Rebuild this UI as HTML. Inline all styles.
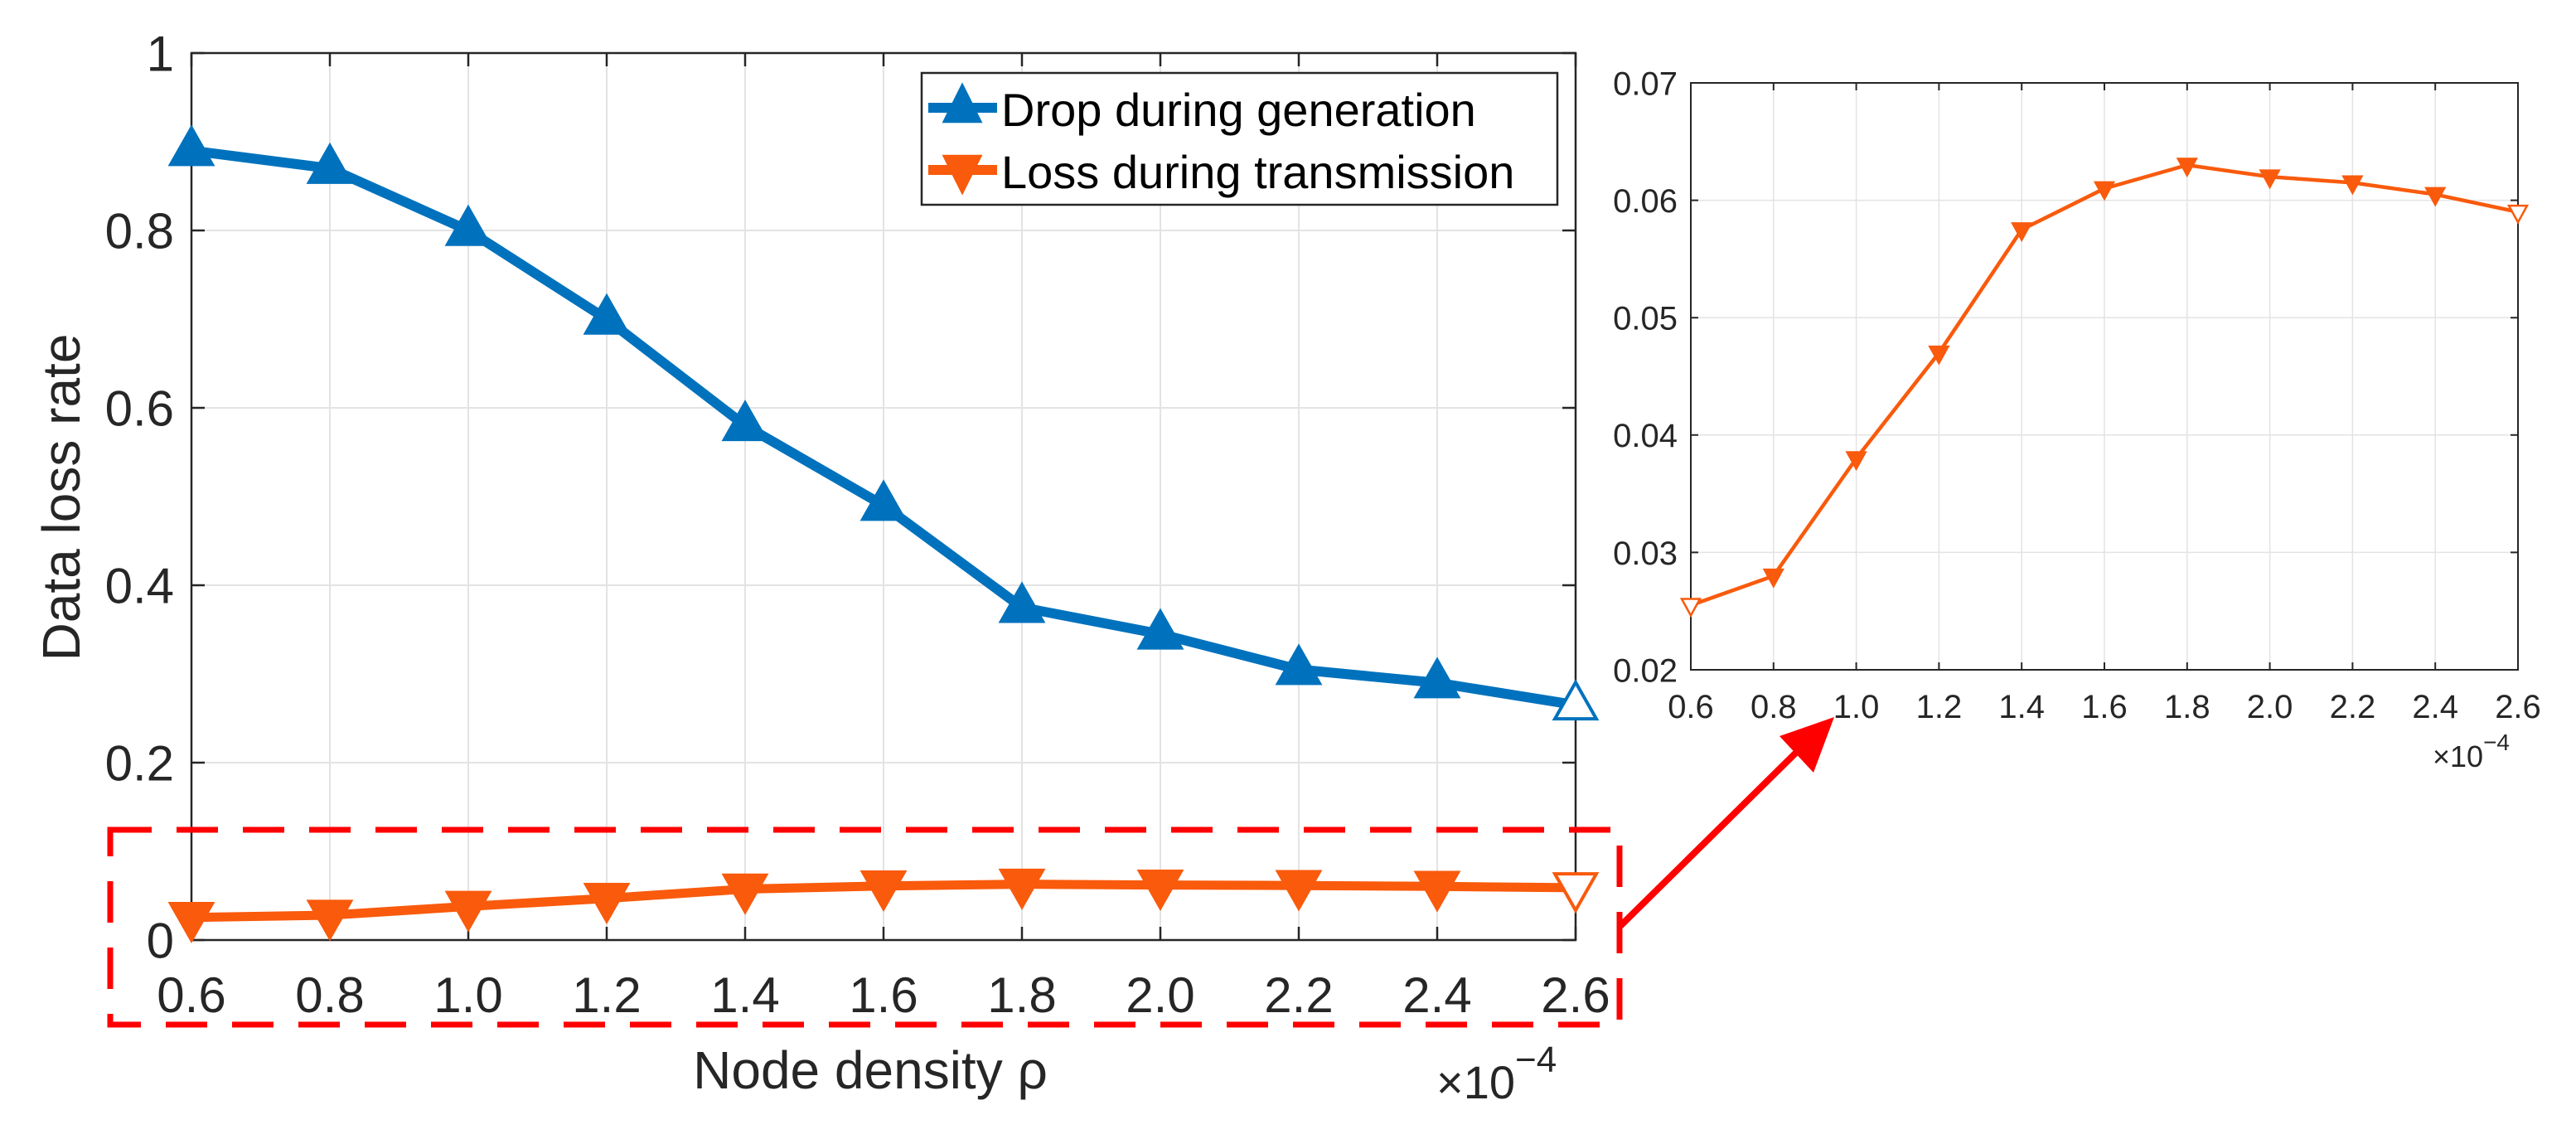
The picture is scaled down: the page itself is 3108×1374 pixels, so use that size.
<!DOCTYPE html>
<html><head><meta charset="utf-8"><style>
html,body{margin:0;padding:0;background:#fff;}
svg{display:block;font-family:"Liberation Sans",sans-serif;}
</style></head><body>
<svg id="chart" width="3108" height="1374" viewBox="0 0 3108 1374" xmlns="http://www.w3.org/2000/svg">
<rect width="3108" height="1374" fill="#fff"/>
<g id="main"></g>
<g id="inset"></g>
<g id="annot"></g>
</svg>
<script>
const xTicks = [0.6,0.8,1.0,1.2,1.4,1.6,1.8,2.0,2.2,2.4,2.6];
const xTickLabels = ["0.6","0.8","1.0","1.2","1.4","1.6","1.8","2.0","2.2","2.4","2.6"];
const dropGen = [0.89,0.87,0.80,0.70,0.58,0.49,0.375,0.345,0.305,0.29,0.265];
const lossTx = [0.0255,0.028,0.038,0.047,0.0575,0.061,0.063,0.062,0.0615,0.0605,0.059];
const mainYTicks = [0,0.2,0.4,0.6,0.8,1];
const mainYLabels = ["0","0.2","0.4","0.6","0.8","1"];
const insetYTicks = [0.02,0.03,0.04,0.05,0.06,0.07];
const insetYLabels = ["0.02","0.03","0.04","0.05","0.06","0.07"];

const NS="http://www.w3.org/2000/svg";
function mk(parent,tag,attrs,text){const e=document.createElementNS(NS,tag);for(const k in attrs)e.setAttribute(k,attrs[k]);if(text!==undefined)e.textContent=text;parent.appendChild(e);return e;}
const BLUE="#0072BD", ORANGE="#F95A0C", AX="#262626", GRID="#e3e3e3";

function axes(g,o){
  const sx=v=>o.x0+(v-o.xmin)/(o.xmax-o.xmin)*(o.x1-o.x0);
  const sy=v=>o.y1-(v-o.ymin)/(o.ymax-o.ymin)*(o.y1-o.y0);
  xTicks.forEach((t,i)=>{
    const l=mk(g,'line',{x1:sx(t),x2:sx(t),y1:o.y0,y2:o.y1,stroke:GRID,'stroke-width':o.gw});
    
    
    const tk=mk(g,'path',{d:`M${sx(t)},${o.y1}v${-o.tl}M${sx(t)},${o.y0}v${o.tl}`,stroke:AX,'stroke-width':o.aw});
    
    
    const tx=mk(g,'text',{x:sx(t),y:o.xly,'font-size':o.fs,'text-anchor':'middle',fill:'#262626'},xTickLabels[i]);
    
    
  });
  o.yt.forEach((t,i)=>{
    const l=mk(g,'line',{x1:o.x0,x2:o.x1,y1:sy(t),y2:sy(t),stroke:GRID,'stroke-width':o.gw});
    
    
    const tk=mk(g,'path',{d:`M${o.x0},${sy(t)}h${o.tl}M${o.x1},${sy(t)}h${-o.tl}`,stroke:AX,'stroke-width':o.aw});
    
    
    const tx=mk(g,'text',{x:o.ylx,y:sy(t)+o.fs*0.36,'font-size':o.fs,'text-anchor':'end',fill:'#262626'},o.yl[i]);
    
    
  });
  const b=mk(g,'rect',{x:o.x0,y:o.y0,width:o.x1-o.x0,height:o.y1-o.y0,fill:'none',stroke:AX,'stroke-width':o.aw});
  
  
  return {sx,sy};
}
function tri(g,x,y,w,h,up,color,hollow,sw){
  const d=up?`M${x},${y-h*0.62}L${x+w/2},${y+h*0.38}L${x-w/2},${y+h*0.38}Z`:`M${x},${y+h*0.62}L${x+w/2},${y-h*0.38}L${x-w/2},${y-h*0.38}Z`;
  const p=mk(g,'path',{d,fill:hollow?'#fff':color,stroke:color,'stroke-width':sw,'stroke-linejoin':'miter'});
  
  
}
function series(g,sx,sy,vals,color,lw,up,w,h,sw,hollowIdx,name){
  const pts=vals.map((v,i)=>sx(xTicks[i])+','+sy(v)).join(' ');
  const pl=mk(g,'polyline',{points:pts,fill:'none',stroke:color,'stroke-width':lw,'stroke-linejoin':'round'});
  
  
  vals.forEach((v,i)=>tri(g,sx(xTicks[i]),sy(v),w,h,up,color,hollowIdx.includes(i),sw));
}

// Main plot
const gm=document.getElementById('main');
const m=axes(gm,{x0:231,x1:1901,y0:64,y1:1134,xmin:0.6,xmax:2.6,ymin:0,ymax:1,yt:mainYTicks,yl:mainYLabels,fs:60,xly:1221,ylx:210,tl:16,aw:2.5,gw:2});
series(gm,m.sx,m.sy,dropGen,BLUE,12,true,50,44,4,[10],'drop-line');
series(gm,m.sx,m.sy,lossTx,ORANGE,11,false,50,44,4,[10],'loss-line');
let t=mk(gm,'text',{x:1050,y:1313,'font-size':64,'text-anchor':'middle',fill:'#262626'},'Node density ρ');

t=mk(gm,'text',{x:0,y:0,'font-size':64,'text-anchor':'middle',fill:'#262626',transform:'translate(96,600) rotate(-90)'},'Data loss rate');

t=mk(gm,'text',{x:1733,y:1325,'font-size':56,fill:'#262626'},'×10');

mk(t,'tspan',{dy:-32,'font-size':44},'−4');
// Legend
const lg=mk(gm,'g',{});

mk(lg,'rect',{x:1112,y:88,width:767,height:159,fill:'#fff',stroke:'#262626','stroke-width':2.5});
mk(lg,'line',{x1:1120,x2:1203,y1:130,y2:130,stroke:BLUE,'stroke-width':12});
tri(lg,1161,130,44,44,true,BLUE,false,3);
mk(lg,'text',{x:1208,y:152,'font-size':56,fill:'#000'},'Drop during generation');
mk(lg,'line',{x1:1120,x2:1203,y1:205,y2:205,stroke:ORANGE,'stroke-width':12});
tri(lg,1161,205,44,44,false,ORANGE,false,3);
mk(lg,'text',{x:1208,y:227,'font-size':56,fill:'#000'},'Loss during transmission');

// Inset
const gi=document.getElementById('inset');
const n=axes(gi,{x0:2040,x1:3038,y0:100,y1:808,xmin:0.6,xmax:2.6,ymin:0.02,ymax:0.07,yt:insetYTicks,yl:insetYLabels,fs:40,xly:866,ylx:2024,tl:9,aw:2,gw:1.5});
series(gi,n.sx,n.sy,lossTx,ORANGE,4.5,false,22,20,2.5,[0,10],'inset-loss-line');
t=mk(gi,'text',{x:2935,y:925,'font-size':36,fill:'#262626'},'×10');

mk(t,'tspan',{dy:-20,'font-size':28},'−4');

// Annotation
const ga=document.getElementById('annot');
let r=mk(ga,'rect',{x:133,y:1001,width:1821,height:235,fill:'none',stroke:'#ff0000','stroke-width':7,'stroke-dasharray':'50 30'});

r=mk(ga,'line',{x1:1955,y1:1117,x2:2175,y2:900,stroke:'#ff0000','stroke-width':8});

r=mk(ga,'path',{d:'M2213,865L2188,932L2147,888Z',fill:'#ff0000'});

</script>
</body></html>
